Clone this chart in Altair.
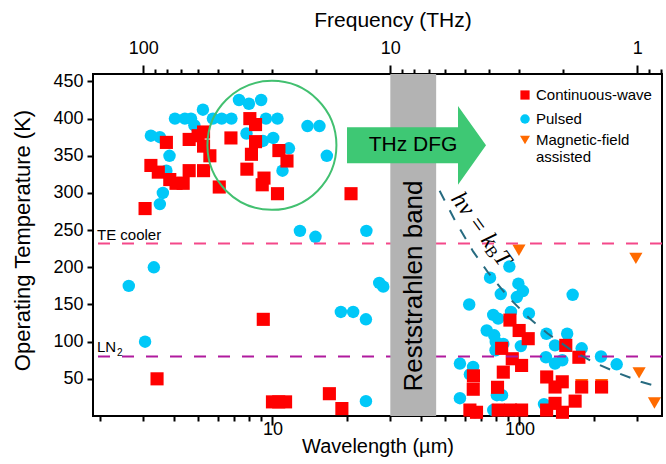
import altair as alt
import pandas as pd

# ---------------- data ----------------
cw_wavelength = [3.05, 3.22, 3.45, 3.72, 3.84, 4.07, 4.35, 4.60, 4.60, 5.00,
                 5.26, 5.26, 5.26, 5.58, 6.09, 6.79, 8.10, 8.54, 8.54, 8.22,
                 7.88, 9.24, 9.09, 10.48, 10.62, 11.45, 20.8, 9.18, 3.41, 10.0,
                 10.6, 11.3, 17.0, 19.1,
                 91.5, 99.7, 108.5, 84.7, 93.5, 102, 65.1, 86, 65, 81.5,
                 63, 67, 82, 92, 102, 128.9, 139.3, 149, 154, 174,
                 178.6, 215, 168, 128.8, 139.3, 149.3]
cw_temperature = [279, 337, 328, 368, 318, 313, 313, 372, 330, 377,
                  382, 363, 330, 350, 308, 374, 400, 392, 369, 352,
                  332, 320, 311, 299, 357, 343, 299, 130, 50, 19,
                  19, 19, 30, 10,
                  129, 115, 104, 91, 77, 68, 54, 59, 36, 38.6,
                  8, 5, 8, 8, 8, 52.5, 39, 46, 95, 79,
                  39, 39, 20, 8, 17, 5]

pulsed_wavelength = [7.32, 8.03, 9.0, 5.23, 4.03, 4.42, 4.68, 4.83, 5.74, 6.23,
                     6.82, 9.41, 10.48, 3.22, 3.50, 3.83, 3.72, 3.60, 3.50, 7.85,
                     10.07, 11.66, 10.98, 13.86, 15.50, 16.6, 12.92, 14.93, 24.0, 2.62,
                     3.31, 3.05, 27.06, 28.09, 18.92, 21.22, 23.90, 23.90, 9.15,
                     91, 76, 99, 103.3, 84, 97.6, 62.6, 78.3, 82, 92.4,
                     109.2, 73.7, 79, 80.2, 86, 101.3, 57.4, 64.9, 63, 57.4,
                     66, 81, 85, 78.3, 128.6, 156, 164.2, 139.3, 178.6, 128,
                     139.3, 149, 213.8, 247.5, 125.7, 80]
pulsed_temperature = [425, 420, 425, 412, 400, 400, 400, 391, 400, 400,
                      400, 400, 400, 377, 375, 350, 330, 300, 285, 380,
                      374, 360, 330, 390, 390, 350, 249, 241, 249, 175,
                      200, 100, 179, 174, 140, 140, 130, 20, 370,
                      201, 186, 178, 168, 164, 160, 150, 136, 131, 140,
                      138, 115, 108.5, 99.5, 97, 94, 70.5, 66, 56, 24,
                      5, 28, 28, 8, 110.6, 110.6, 163, 95, 91, 79,
                      70.5, 75, 80, 69.5, 16, 88.4]

mag_wavelength = [99.5, 296, 305, 352, 178.6, 215]
mag_temperature = [223, 212, 58, 17.5, 42, 42]

# h*nu = kB*T guide curve
hv_wavelength = [47.5, 55, 65, 75, 90, 110, 130, 160, 200, 250, 310, 377.6]
hv_temperature = [303, 262, 221, 192, 160, 131, 111, 90, 72, 58, 46, 38]

te_cooler_T = [232]
ln2_T = [80]
band_wavelength = [30, 46]

bottom_ticks = [2, 3, 4, 5, 6, 7, 8, 9, 10, 20, 30, 40, 50, 60, 70, 80, 90, 100, 200, 300]
top_ticks = [0.8, 0.9, 1, 2, 3, 4, 5, 6, 7, 8, 9, 10, 20, 30, 40, 50, 60, 70, 80, 90, 100]
y_ticks = [50, 100, 150, 200, 250, 300, 350, 400, 450]

# ---------------- scales / axes ----------------
X_DOMAIN = [1.877, 377.6]
F_DOMAIN = [299.79 / 377.6, 299.79 / 1.877]
Y_DOMAIN = [0, 460]
FONT = "Liberation Sans"

xs = alt.Scale(type="log", domain=X_DOMAIN, nice=False)
ys = alt.Scale(type="linear", domain=Y_DOMAIN, nice=False, zero=False)

X_AX = alt.Axis(values=bottom_ticks, labelOverlap=False,
                labelExpr="(datum.value == 10 || datum.value == 100) ? format(datum.value, 'd') : ''",
                tickSize={"condition": {"test": "datum.value == 10 || datum.value == 100", "value": 9}, "value": 5},
                labelPadding=-5, titleY=30, titleBaseline="middle")
Y_AX = alt.Axis(values=y_ticks, tickSize=6, labelPadding=4,
                titleX=-71, titleY=166, titleBaseline="middle", titleFontSize=22)
TOP_AX = alt.Axis(orient="top", values=top_ticks, labelOverlap=False,
                  labelExpr="(datum.value == 1 || datum.value == 10 || datum.value == 100) ? format(datum.value, 'd') : ''",
                  tickSize={"condition": {"test": "datum.value == 1 || datum.value == 10 || datum.value == 100", "value": 9}, "value": 5},
                  labelPadding=8, titleX=299.5, titleY=-54, titleBaseline="middle",
                  titleFontSize=21)

XT = "Wavelength (µm)"
YT = "Operating Temperature (K)"


def X(field):
    return alt.X(field, type="quantitative", scale=xs, axis=X_AX, title=XT)


def Y(field):
    return alt.Y(field, type="quantitative", scale=ys, axis=Y_AX, title=YT)


cw = pd.DataFrame({"wl": cw_wavelength, "T": cw_temperature})
pl = pd.DataFrame({"wl": pulsed_wavelength, "T": pulsed_temperature})
mg = pd.DataFrame({"wl": mag_wavelength, "T": mag_temperature})
hv = pd.DataFrame({"wl": hv_wavelength, "T": hv_temperature})
band = pd.DataFrame({"a": [band_wavelength[0]], "b": [band_wavelength[1]]})
one = pd.DataFrame({"k": [0]})

blue = alt.Chart(pl).mark_circle(size=155, color="#00c8f8", opacity=1).encode(x=X("wl"), y=Y("T"))
orange = alt.Chart(mg).mark_point(shape="triangle-down", filled=True, size=175,
                                  color="#ff6a00", opacity=1).encode(x=X("wl"), y=Y("T"))
red = alt.Chart(cw).mark_square(size=172, color="#ff0000", opacity=1).encode(x=X("wl"), y=Y("T"))

te_line = alt.Chart(pd.DataFrame({"T": te_cooler_T})).mark_rule(
    color="#f4488a", strokeWidth=2, strokeDash=[12, 12]).encode(y=Y("T"))
ln_line = alt.Chart(pd.DataFrame({"T": ln2_T})).mark_rule(
    color="#b01a9e", strokeWidth=2, strokeDash=[12, 12]).encode(y=Y("T"))

hv_line = alt.Chart(hv).mark_line(color="#276b80", strokeWidth=2, strokeDash=[11, 11],
                                  clip=True).encode(x=X("wl"), y=Y("T"), order="wl:Q")

band_rect = alt.Chart(band).mark_rect(color="#b3b3b3").encode(x=X("a"), x2="b")

band_text = alt.Chart(one).mark_text(text="Reststrahlen band", angle=270, font=FONT,
                                     fontSize=26, color="black", align="center",
                                     baseline="middle").encode(x=alt.value(321), y=alt.value(212))

ARROW = "M-1,-0.259L0.597,-0.259L0.597,-0.568L1,0L0.597,0.568L0.597,0.259L-1,0.259Z"
arrow = alt.Chart(pd.DataFrame({"wl": [38.3], "T": [364]})).mark_point(
    shape=ARROW, filled=True, size=139 * 139, color="#3ec874", opacity=1, strokeWidth=0
).encode(x=X("wl"), y=Y("T"))
arrow_text = alt.Chart(one).mark_text(text="THz DFG", font=FONT, fontSize=21, color="black",
                                      align="center", baseline="middle").encode(
    x=alt.value(320), y=alt.value(71))

ring = alt.Chart(pd.DataFrame({"wl": [9.95], "T": [364]})).mark_point(
    shape="circle", filled=False, size=129 * 129, color="#42c070", strokeWidth=2, opacity=1
).encode(x=X("wl"), y=Y("T"))

te_text = alt.Chart(one).mark_text(text="TE cooler", font=FONT, fontSize=15, color="black",
                                   align="left", baseline="alphabetic").encode(
    x=alt.value(4), y=alt.value(166))
ln_text = alt.Chart(one).mark_text(text="LN", font=FONT, fontSize=15, color="black",
                                   align="left", baseline="alphabetic").encode(
    x=alt.value(4), y=alt.value(278))
ln_sub = alt.Chart(one).mark_text(text="2", font=FONT, fontSize=10, color="black",
                                  align="left", baseline="alphabetic").encode(
    x=alt.value(24), y=alt.value(282))

SERIF = "Liberation Serif"
hv1 = alt.Chart(one).mark_text(text="hν = k", font=SERIF, fontStyle="italic", fontSize=24,
                               angle=54, align="left", baseline="middle", color="black").encode(
    x=alt.value(363), y=alt.value(121))
hv2 = alt.Chart(one).mark_text(text="B", font=SERIF, fontSize=16, angle=54, align="left",
                               baseline="middle", color="black").encode(
    x=alt.value(395), y=alt.value(173.5))
hv3 = alt.Chart(one).mark_text(text="T", font=SERIF, fontStyle="italic", fontSize=24,
                               angle=54, align="left", baseline="middle", color="black").encode(
    x=alt.value(405.5), y=alt.value(179.5))

# manual legend (inside the plot, top right)
leg_sq = alt.Chart(one).mark_square(size=85, color="#ff0000", opacity=1).encode(
    x=alt.value(432), y=alt.value(21))
leg_ci = alt.Chart(one).mark_circle(size=90, color="#00c8f8", opacity=1).encode(
    x=alt.value(432), y=alt.value(45))
leg_tr = alt.Chart(one).mark_point(shape="triangle-down", filled=True, size=100,
                                   color="#ff6a00", opacity=1).encode(
    x=alt.value(432), y=alt.value(66))


def leg_text(t, y):
    return alt.Chart(one).mark_text(text=t, font=FONT, fontSize=15, color="black",
                                    align="left", baseline="middle").encode(
        x=alt.value(443), y=alt.value(y))


inner = alt.layer(
    blue, orange, red, te_line, ln_line, hv_line, band_rect, band_text,
    arrow, arrow_text, ring, te_text, ln_text, ln_sub, hv1, hv2, hv3,
    leg_sq, leg_ci, leg_tr,
    leg_text("Continuous-wave", 21), leg_text("Pulsed", 45),
    leg_text("Magnetic-field", 66), leg_text("assisted", 83),
)

top = alt.Chart(pd.DataFrame({"f": [1, 10, 100]})).mark_point(opacity=0).encode(
    x=alt.X("f:Q", scale=alt.Scale(type="log", domain=F_DOMAIN, reverse=True, nice=False),
            axis=TOP_AX, title="Frequency (THz)")
)

chart = alt.layer(inner, top).resolve_scale(x="independent").properties(
    width=569, height=342,
    padding={"left": 93, "top": 74, "right": 4, "bottom": 48},
    autosize=alt.AutoSizeParams(type="none"),
    background="white",
).configure_view(stroke="black", strokeWidth=2).configure_axis(
    labelFont=FONT, titleFont=FONT, labelFontSize=18, titleFontSize=20,
    titleFontWeight="normal", labelColor="black", titleColor="black",
    tickColor="black", tickWidth=2, domain=False, grid=False,
)

chart.save("out.html", embed_options={"renderer": "svg", "actions": False})
